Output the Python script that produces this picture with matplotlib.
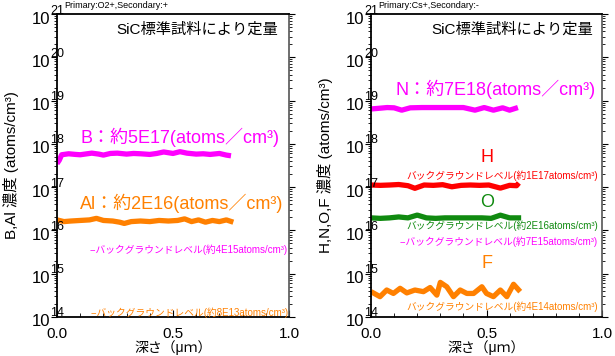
import numpy as np
import matplotlib
matplotlib.use("Agg")
import matplotlib.pyplot as plt
import matplotlib.transforms as mtransforms
from matplotlib.ticker import MultipleLocator, LogLocator, NullFormatter

plt.rcParams['font.family'] = ['Liberation Sans', 'Noto Sans CJK JP', 'DejaVu Sans']

# depth profiles (um, atoms/cm3)
b_depth = [0, 0.01, 0.02, 0.05, 0.08, 0.10, 0.13, 0.15, 0.18, 0.20, 0.23, 0.26, 0.30, 0.33,
           0.36, 0.40, 0.43, 0.46, 0.50, 0.53, 0.56, 0.60, 0.63, 0.66, 0.70, 0.73, 0.75]
b_conc = [3.5e17, 4.2e17, 5.6e17, 5.9e17, 5.7e17, 5.6e17, 5.9e17, 6.1e17, 5.8e17, 5.5e17,
          6.0e17, 6.1e17, 5.8e17, 6.0e17, 5.9e17, 5.7e17, 6.0e17, 6.5e17, 6.0e17, 6.6e17,
          6.1e17, 5.8e17, 5.9e17, 5.7e17, 6.0e17, 5.5e17, 5.3e17]

al_depth = [0, 0.03, 0.06, 0.10, 0.14, 0.17, 0.20, 0.24, 0.27, 0.29, 0.32, 0.36, 0.40, 0.44,
            0.48, 0.52, 0.55, 0.58, 0.61, 0.64, 0.67, 0.70, 0.73, 0.76]
al_conc = [1.75e16, 1.6e16, 1.65e16, 1.7e16, 1.75e16, 1.9e16, 1.7e16, 1.65e16, 1.55e16,
           1.45e16, 1.6e16, 1.65e16, 1.6e16, 1.7e16, 1.65e16, 1.7e16, 1.85e16, 1.6e16,
           1.75e16, 1.55e16, 1.7e16, 1.6e16, 1.75e16, 1.55e16]

n_depth = [0, 0.03, 0.07, 0.10, 0.133, 0.17, 0.22, 0.28, 0.34, 0.40, 0.45, 0.49, 0.53,
           0.57, 0.60, 0.636]
n_conc = [6.4e18, 6.6e18, 6.9e18, 6.8e18, 6.0e18, 6.8e18, 6.9e18, 6.9e18, 6.9e18, 6.9e18,
          6.0e18, 6.9e18, 6.0e18, 6.8e18, 6.0e18, 6.9e18]

h_depth = [0, 0.04, 0.08, 0.12, 0.16, 0.19, 0.23, 0.27, 0.31, 0.35, 0.39, 0.43, 0.47,
           0.51, 0.56, 0.60, 0.63, 0.64]
h_conc = [1.12e17, 1.1e17, 1.12e17, 1.15e17, 1.08e17, 0.94e17, 1.12e17, 1.1e17, 1.14e17,
          1.02e17, 1.1e17, 1.12e17, 1.1e17, 1.12e17, 0.95e17, 1.1e17, 1.08e17, 1.25e17]

o_depth = [0, 0.04, 0.08, 0.12, 0.16, 0.20, 0.24, 0.28, 0.32, 0.36, 0.40, 0.44, 0.48,
           0.52, 0.56, 0.60, 0.65]
o_conc = [1.95e16, 1.9e16, 1.95e16, 2.05e16, 1.95e16, 2.26e16, 1.95e16, 1.9e16, 1.95e16,
          1.95e16, 1.95e16, 1.95e16, 1.95e16, 1.9e16, 2.25e16, 1.95e16, 1.95e16]

f_depth = [0, 0.039, 0.068, 0.097, 0.126, 0.155, 0.19, 0.227, 0.256, 0.285, 0.30, 0.328,
           0.357, 0.386, 0.415, 0.444, 0.48, 0.50, 0.53, 0.56, 0.588, 0.617, 0.646]
f_conc = [3.85e14, 2.95e14, 4.2e14, 3.5e14, 4.6e14, 3.6e14, 4.2e14, 3.85e14, 4.8e14,
          3.2e14, 6.3e14, 5.0e14, 2.95e14, 4.2e14, 3.5e14, 3.5e14, 5.0e14, 3.5e14,
          2.95e14, 4.2e14, 2.95e14, 5.7e14, 3.85e14]

exps = [14, 15, 16, 17, 18, 19, 20, 21]
xticks = [0.0, 0.5, 1.0]
xtick_labels = ["0.0", "0.5", "1.0"]

MAG = '#ff00ff'
ORA = '#ff8000'
RED = '#ff0000'
GRN = '#108a10'

W, H = 615, 356
fig = plt.figure(figsize=(W / 100, H / 100), dpi=100)
ax1 = fig.add_axes([57 / W, 1 - 317 / H, 232 / W, 303 / H])
ax2 = fig.add_axes([371 / W, 1 - 317 / H, 231 / W, 303 / H])


def setup(ax, ylabel):
   ax.set_yscale('log')
   ax.set_ylim(1e14, 1e21)
   ax.set_xlim(0, 1.0)
   ax.set_xticks(xticks)
   ax.set_xticklabels(xtick_labels, fontsize=11)
   ax.xaxis.set_minor_locator(MultipleLocator(0.1))
   ax.yaxis.set_major_locator(LogLocator(base=10, numticks=10))
   ax.yaxis.set_minor_locator(LogLocator(base=10, subs=np.arange(2, 10), numticks=20))
   ax.yaxis.set_minor_formatter(NullFormatter())
   ax.set_yticklabels([])
   ax.tick_params(axis='x', which='both', direction='in', top=False, pad=7)
   ax.tick_params(axis='x', which='major', length=5)
   ax.tick_params(axis='x', which='minor', length=3)
   ax.tick_params(axis='y', which='both', direction='out', left=True, right=True,
                  labelleft=False)
   ax.tick_params(axis='y', which='major', length=4.5)
   ax.tick_params(axis='y', which='minor', length=2.5)
   for side in ['left', 'bottom', 'top']:
      ax.spines[side].set_linewidth(1.3)
   ax.spines['right'].set_linewidth(1.2)
   ax.spines['right'].set_color('#555555')
   ax.set_ylabel(ylabel, fontsize=11)
   ax.yaxis.set_label_coords(-0.164, 0.5)
   ax.set_xlabel("深さ（μｍ）", fontsize=10)
   ax.xaxis.set_label_coords(0.5, -0.1)
   ax.xaxis.label.set_va('center')
   # decade labels drawn as "10" plus a raised exponent
   for n in exps:
      off = mtransforms.ScaledTranslation(-0.07, -0.05, fig.dpi_scale_trans)
      ax.text(0, 10.0 ** n, "10", transform=ax.get_yaxis_transform() + off,
              ha='right', va='center', fontsize=12, clip_on=False)
      off2 = mtransforms.ScaledTranslation(-0.07, 0.035, fig.dpi_scale_trans)
      ax.text(0, 10.0 ** n, str(n), transform=ax.get_yaxis_transform() + off2,
              ha='left', va='center', fontsize=9, clip_on=False)


setup(ax1, "B,Al 濃度 (atoms/cm³)")
setup(ax2, "H,N,O,F 濃度 (atoms/cm³)")

lw = 3.8
ax1.plot(b_depth, b_conc, color=MAG, lw=lw, solid_capstyle='butt')
ax1.plot(al_depth, al_conc, color=ORA, lw=lw, solid_capstyle='butt')
ax2.plot(n_depth, n_conc, color=MAG, lw=lw, solid_capstyle='butt')
ax2.plot(h_depth, h_conc, color=RED, lw=lw, solid_capstyle='butt')
ax2.plot(o_depth, o_conc, color=GRN, lw=lw, solid_capstyle='butt')
ax2.plot(f_depth, f_conc, color=ORA, lw=lw, solid_capstyle='butt')


def ftext(x, y, s, **kw):
   kw.setdefault('va', 'center')
   fig.text(x / W, 1 - y / H, s, **kw)


# left panel annotations
ftext(64, 6, "Primary:O2+,Secondary:+", fontsize=6.5)
ftext(278, 30, "SiC標準試料により定量", fontsize=11, ha='right')
ftext(80, 137, "B：約5E17(atoms／cm³)", fontsize=13, color=MAG)
ftext(80, 203, "Al：約2E16(atoms／cm³)", fontsize=13, color=ORA)
ftext(288, 250, "--バックグラウンドレベル(約4E15atoms/cm³)", fontsize=7, color=MAG, ha='right')
ftext(289, 313, "--バックグラウンドレベル(約8E13atoms/cm³)", fontsize=7, color=ORA, ha='right')

# right panel annotations
ftext(378, 6, "Primary:Cs+,Secondary:-", fontsize=6.5)
ftext(593, 30, "SiC標準試料により定量", fontsize=11, ha='right')
ftext(395, 89, "N：約7E18(atoms／cm³)", fontsize=13, color=MAG)
ftext(487, 157, "H", fontsize=13, color=RED, ha='center')
ftext(598, 176, "バックグラウンドレベル(約1E17atoms/cm³)", fontsize=7, color=RED, ha='right')
ftext(487, 202, "O", fontsize=13, color=GRN, ha='center')
ftext(598, 226, "バックグラウンドレベル(約2E16atoms/cm³)", fontsize=7, color=GRN, ha='right')
ftext(598, 242, "--バックグラウンドレベル(約7E15atoms/cm³)", fontsize=7, color=MAG, ha='right')
ftext(487, 264, "F", fontsize=13, color=ORA, ha='center')
ftext(598, 307, "バックグラウンドレベル(約4E14atoms/cm³)", fontsize=7, color=ORA, ha='right')

fig.savefig("out.png", dpi=100)
